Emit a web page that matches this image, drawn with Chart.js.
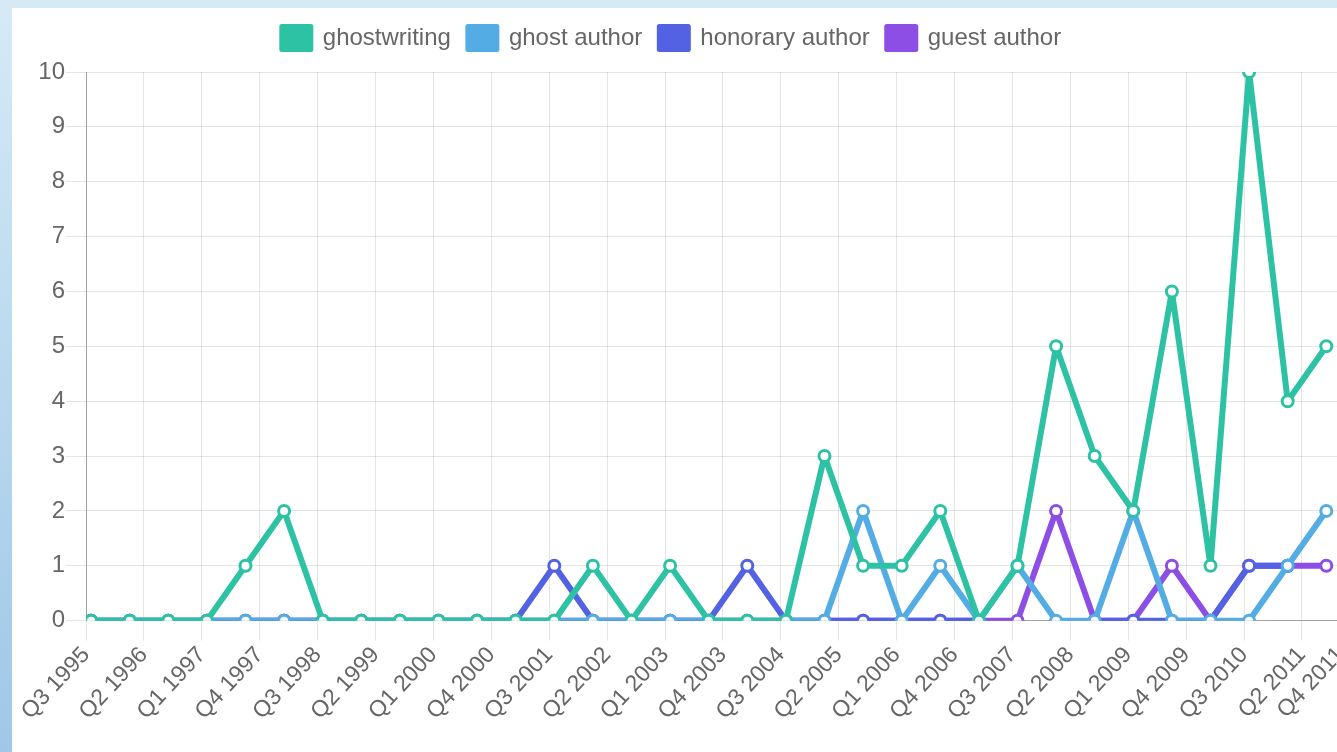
<!DOCTYPE html>
<html><head><meta charset="utf-8">
<script src="https://cdn.jsdelivr.net/npm/chart.js@4/dist/chart.umd.min.js"></script>
<style>
html,body{margin:0;padding:0;}
body{width:1337px;height:752px;overflow:hidden;position:relative;background:linear-gradient(to bottom,#d6eaf6 0%,#b9d9ef 50%,#9fc7e7 100%);}
#panel{position:absolute;left:12px;top:8px;width:1325px;height:744px;background:#fff;}
#wrap{position:absolute;left:0;top:0;width:1349px;height:752px;}
</style></head><body>
<div id="panel"></div>
<div id="wrap"><canvas id="c"></canvas></div>
<script>
const sampleDates = ['1995-07-25','1996-01-25','1996-07-25','1997-01-25','1997-07-25','1998-01-25','1998-07-25','1999-01-25','1999-07-25','2000-01-25','2000-07-25','2001-01-25','2001-07-25','2002-01-25','2002-07-25','2003-01-25','2003-07-25','2004-01-25','2004-07-25','2005-01-25','2005-07-25','2006-01-25','2006-07-25','2007-01-25','2007-07-25','2008-01-25','2008-07-25','2009-01-25','2009-07-25','2010-01-25','2010-07-25','2011-01-25','2011-07-25'];
const tickLabels = ['Q3 1995','Q2 1996','Q1 1997','Q4 1997','Q3 1998','Q2 1999','Q1 2000','Q4 2000','Q3 2001','Q2 2002','Q1 2003','Q4 2003','Q3 2004','Q2 2005','Q1 2006','Q4 2006','Q3 2007','Q2 2008','Q1 2009','Q4 2009','Q3 2010','Q2 2011','Q4 2011'];
const ghostwriting   = [0,0,0,0,1,2,0,0,0,0,0,0,0,1,0,1,0,0,0,3,1,1,2,0,1,5,3,2,6,1,10,4,5];
const ghostAuthor    = [0,0,0,0,0,0,0,0,0,0,0,0,0,0,0,0,0,0,0,0,2,0,1,0,1,0,0,2,0,0,0,1,2];
const honoraryAuthor = [0,0,0,0,0,0,0,0,0,0,0,0,1,0,0,0,0,1,0,0,0,0,0,0,null,null,0,0,0,0,1,1,null];
const guestAuthor    = [0,0,0,0,0,0,0,0,0,0,0,0,0,0,0,0,0,0,0,0,0,0,0,0,0,2,0,0,1,0,1,1,1];
const seriesNames = ['ghostwriting','ghost author','honorary author','guest author'];
const seriesColors = ['rgb(46,194,164)','rgb(84,172,228)','rgb(82,98,226)','rgb(140,78,228)'];

const BASE_YEAR = 1995, BASE_Q = 3;
function quarterOfLabel(l){const p=l.split(' ');return (parseInt(p[1])-BASE_YEAR)*4+(parseInt(p[0].slice(1))-BASE_Q);}
function quarterOfDate(s){const p=s.split('-').map(Number);return ((p[0]-BASE_YEAR)*12+(p[1]-1)-(BASE_Q-1)*3+(p[2]-1)/30.4)/3;}
function toPoints(vals){return vals.map((v,i)=>({x:quarterOfDate(sampleDates[i]),y:v}));}

const allSeries=[ghostwriting,ghostAuthor,honoraryAuthor,guestAuthor];
const FONT='"Liberation Sans", Arial, Helvetica, sans-serif';
const datasets=allSeries.map((vals,i)=>({
  label:seriesNames[i],
  data:toPoints(vals),
  borderColor:seriesColors[i],
  backgroundColor:seriesColors[i],
  borderWidth:6,
  borderJoinStyle:'round',
  tension:0,
  fill:false,
  pointRadius:5.5,
  pointBorderWidth:3,
  pointBackgroundColor:'#fff',
  pointBorderColor:seriesColors[i]
}));

const legendGap={id:'legendGap',beforeInit(chart){const f=chart.legend.fit;chart.legend.fit=function(){f.call(this);this.height+=12;};}};

new Chart(document.getElementById('c'),{
  type:'line',
  data:{datasets},
  plugins:[legendGap],
  options:{
    responsive:true,maintainAspectRatio:false,animation:false,
    layout:{padding:{left:-6,right:0,top:9,bottom:26}},
    plugins:{
      legend:{labels:{boxWidth:29,boxHeight:23,padding:17,color:'#666',font:{size:24,family:FONT},
        generateLabels:(chart)=>Chart.defaults.plugins.legend.labels.generateLabels(chart).map(it=>Object.assign(it,{lineWidth:5}))}},
      tooltip:{enabled:false}
    },
    scales:{
      x:{type:'linear',min:0,max:65,
        afterBuildTicks:(s)=>{s.ticks=tickLabels.map(l=>({value:quarterOfLabel(l)}));},
        afterFit:(s)=>{s.paddingRight=0;},
        ticks:{autoSkip:false,minRotation:47,maxRotation:47,padding:1,color:'#666',font:{size:23,family:FONT},
          callback:(v,i)=>tickLabels[i]},
        grid:{color:'rgba(0,0,0,0.1)',tickLength:20},
        border:{color:'rgba(0,0,0,0.3)'}},
      y:{min:0,max:10,
        afterFit:(s)=>{s.width=92;},
        ticks:{stepSize:1,padding:1,color:'#666',font:{size:24,family:FONT}},
        grid:{color:'rgba(0,0,0,0.1)',tickLength:20},
        border:{color:'rgba(0,0,0,0.3)'}}
    }
  }
});
</script>
</body></html>
